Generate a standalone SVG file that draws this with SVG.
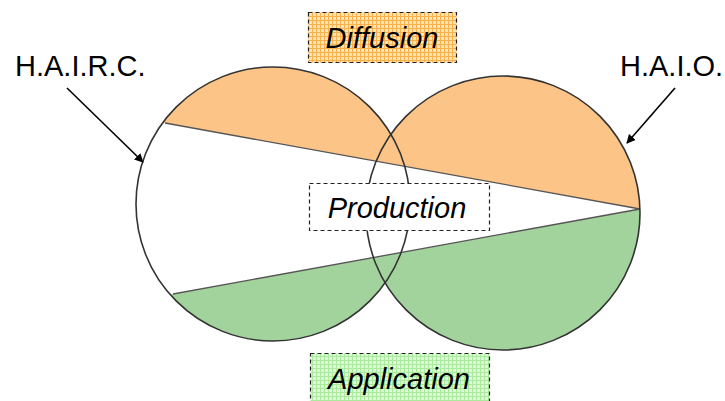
<svg xmlns="http://www.w3.org/2000/svg" width="725" height="401" viewBox="0 0 725 401">
  <style>
    .lbl { font-family: "Liberation Sans", Arial, sans-serif; font-size: 29px; fill: #000; }
    .it { font-style: italic; }
    .box { stroke: #222; stroke-width: 1.2; stroke-dasharray: 4 3; }
    .ring { fill: none; stroke: #333; stroke-width: 1.6; }
    .cut { stroke: #555; stroke-width: 1.3; fill: none; }
    .arrow { stroke: #000; stroke-width: 1.6; fill: none; marker-end: url(#ah); }
  </style>
  <defs>
    <marker id="ah" viewBox="0 0 10 10" refX="9" refY="5" markerWidth="9" markerHeight="9" markerUnits="userSpaceOnUse" orient="auto">
      <path d="M0,0 L10,5 L0,10 Z" fill="#000"/>
    </marker>
    <clipPath id="both">
      <circle cx="273" cy="204" r="137"/>
      <circle cx="503" cy="213" r="137"/>
    </clipPath>
    <pattern id="po" width="4" height="4" patternUnits="userSpaceOnUse">
      <rect width="4" height="4" fill="#FFE3B5"/>
      <path d="M0,0.5 H4 M0.5,0 V4" stroke="#F9B14C" stroke-width="1"/>
    </pattern>
    <pattern id="pg" width="4" height="4" patternUnits="userSpaceOnUse">
      <rect width="4" height="4" fill="#DDFAD6"/>
      <path d="M0,0.5 H4 M0.5,0 V4" stroke="#A9EA9C" stroke-width="1"/>
    </pattern>
  </defs>

  <g id="circles">
    <g clip-path="url(#both)">
      <rect x="100" y="40" width="600" height="330" fill="#fff"/>
      <polygon points="100,0 700,0 700,219.9 100,111.2" fill="#FCC587"/>
      <polygon points="100,307.3 700,198.1 700,401 100,401" fill="#A3D39C"/>
    </g>
    <line class="cut" x1="165" y1="123" x2="640" y2="209"/>
    <line class="cut" x1="173" y1="294" x2="640" y2="209"/>
    <circle id="hairc-circle" class="ring" cx="273" cy="204" r="137"/>
    <circle id="haio-circle" class="ring" cx="503" cy="213" r="137"/>
  </g>

  <g id="diffusion">
    <rect class="box" x="308.5" y="12.5" width="148" height="50" fill="url(#po)"/>
    <text class="lbl it" x="382" y="48" text-anchor="middle">Diffusion</text>
  </g>

  <g id="production">
    <rect class="box" x="309.5" y="183.5" width="180" height="47" fill="#fff"/>
    <text class="lbl it" x="397" y="218" text-anchor="middle">Production</text>
  </g>

  <g id="application">
    <rect class="box" x="310.5" y="353.5" width="179" height="50" fill="url(#pg)"/>
    <text class="lbl it" x="399" y="389" text-anchor="middle">Application</text>
  </g>

  <g id="hairc">
    <text class="lbl" x="15" y="76">H.A.I.R.C.</text>
  </g>

  <g id="haio">
    <text class="lbl" x="620" y="76">H.A.I.O.</text>
  </g>

  <g id="connectors">
    <line class="arrow" x1="67" y1="88" x2="143" y2="162"/>
    <line class="arrow" x1="675" y1="88" x2="627" y2="143"/>
  </g>
</svg>
